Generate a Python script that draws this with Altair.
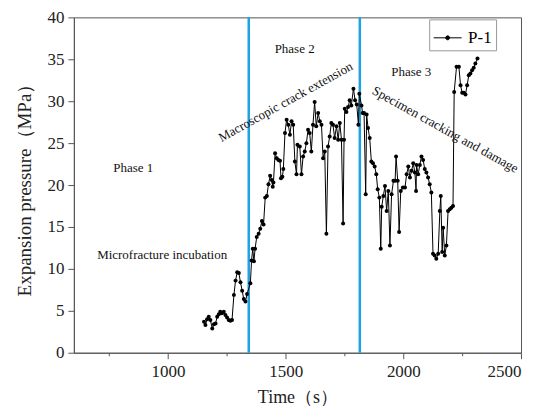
import altair as alt
import pandas as pd

# ---- data ----
time_s = [
    1153, 1159, 1166, 1173, 1180, 1188, 1195, 1202, 1209, 1216, 1222, 1229, 1237, 1244,
    1251, 1258, 1265, 1272, 1280, 1287, 1294, 1301, 1308, 1315, 1322, 1329, 1336, 1350,
    1355, 1360, 1365, 1370, 1377, 1385, 1392, 1399, 1406, 1413, 1420, 1427, 1434, 1441,
    1445, 1448, 1455, 1462, 1469, 1476, 1480, 1486, 1490, 1497, 1504, 1511, 1518, 1525,
    1532, 1539, 1546, 1550, 1560, 1567, 1574, 1581, 1588, 1595, 1602, 1609, 1616, 1623,
    1630, 1638, 1645, 1652, 1659, 1666, 1673, 1680, 1687, 1694, 1701, 1708, 1716, 1723,
    1730, 1737, 1744, 1748, 1751, 1758, 1765, 1772, 1779, 1788, 1795, 1802, 1809, 1813,
    1822, 1827, 1833, 1840, 1844, 1850, 1857, 1864, 1871, 1878, 1885, 1891, 1898, 1904,
    1908, 1915, 1922, 1929, 1936, 1943, 1950, 1958, 1965, 1969, 1976, 1982, 1989, 1998,
    2007, 2014, 2021, 2028, 2035, 2042, 2049, 2054, 2056, 2063, 2070, 2077, 2084, 2091,
    2098, 2105, 2112, 2119, 2126, 2133, 2140, 2148, 2155, 2159, 2165, 2169, 2176, 2183,
    2190, 2197, 2204, 2211, 2216, 2226, 2236, 2243, 2250, 2257, 2264, 2271, 2278, 2285,
    2292, 2299, 2306, 2315,
]
pressure = [
    3.7, 3.3, 4.0, 4.3, 3.9, 2.9, 3.4, 3.5, 4.3, 4.6, 4.9, 4.7, 4.9, 4.5,
    4.2, 3.9, 3.8, 3.9, 6.9, 8.6, 9.6, 9.5, 8.4, 7.4, 6.4, 6.1, 7.0, 8.3,
    11.0, 12.4, 10.9, 12.4, 13.8, 14.2, 14.8, 15.7, 15.3, 18.5, 18.7, 20.1, 21.1, 20.6,
    19.8, 20.3, 23.8, 23.2, 23.0, 22.9, 20.8, 21.0, 21.9, 26.2, 27.8, 27.2, 26.0, 27.6,
    27.2, 22.8, 21.3, 24.8, 24.6, 21.3, 23.4, 24.0, 25.0, 26.6, 26.2, 24.0, 27.2, 29.9,
    27.0, 28.6, 27.6, 27.2, 23.2, 24.0, 14.2, 24.6, 25.8, 27.4, 27.2, 25.6, 27.0, 25.4,
    27.4, 25.4, 15.4, 25.4, 29.1, 28.7, 29.3, 30.1, 29.5, 31.5, 30.1, 29.6, 27.2, 30.9,
    29.5, 28.6, 28.6, 18.9, 28.4, 26.8, 25.6, 22.8, 22.6, 22.2, 21.3, 19.5, 18.5, 12.4,
    17.4, 18.7, 19.9, 16.9, 19.3, 12.8, 18.9, 20.5, 20.5, 23.4, 20.5, 14.4, 19.3, 19.7,
    19.7, 21.3, 22.2, 20.9, 21.7, 22.6, 21.5, 19.3, 22.4, 21.3, 22.4, 23.4, 23.0, 21.9,
    21.5, 20.9, 20.1, 19.1, 11.8, 11.6, 11.2, 11.8, 16.9, 18.7, 12.0, 14.9, 11.6, 12.8,
    16.9, 17.1, 17.3, 17.5, 31.1, 34.1, 34.1, 31.9, 31.0, 31.0, 30.8, 31.9, 33.1, 33.3,
    33.7, 34.0, 34.5, 35.1,
]
series_name = "P-1"

phase_bounds = [1343, 1815]

ann_text = ["Phase 1", "Microfracture incubation", "Phase 2",
            "Macroscopic crack extension", "Phase 3", "Specimen cracking and damage"]
ann_time = [852, 975, 1538, 1500, 2034, 2178]
ann_pres = [22.0, 11.6, 36.2, 29.9, 33.5, 26.6]
ann_angle = [0, 0, 0, 331, 0, 29]

x_major = [1000, 1500, 2000, 2500]
x_minor = [750, 1250, 1750, 2250]
y_ticks = [0, 5, 10, 15, 20, 25, 30, 35, 40]

FONT = "Liberation Serif"
AXIS_COLOR = "#555555"

df = pd.DataFrame({"t": time_s, "p": pressure, "s": [series_name] * len(time_s)})
bounds_df = pd.DataFrame({"t": phase_bounds})
ann_df = pd.DataFrame({"text": ann_text, "t": ann_time, "p": ann_pres, "angle": ann_angle})

x_scale = alt.Scale(domain=[600, 2500], nice=False, zero=False)
y_scale = alt.Scale(domain=[0, 40], nice=False)

x_axis = alt.Axis(
    title="Time（s）",
    values=sorted(x_major + x_minor),
    format="d",
    labelExpr="datum.value % 500 === 0 ? datum.label : ''",
    tickSize={"condition": {"test": "datum.value % 500 === 0", "value": 6}, "value": 3},
    grid=False,
    titlePadding=9,
    labelPadding=5,
)
y_axis = alt.Axis(title="Expansion pressure（MPa）", values=y_ticks, grid=False,
                  tickSize=6, titlePadding=12, titleFontSize=19)

legend_symbol = ("M-1,0H1M-0.14,0a0.14,0.14 0 1,0 0.28,0"
                 "a0.14,0.14 0 1,0 -0.28,0")

line = alt.Chart(df).mark_line(
    strokeWidth=1,
    point=alt.OverlayMarkDef(filled=True, size=16, color="black"),
).encode(
    x=alt.X("t:Q", scale=x_scale, axis=x_axis),
    y=alt.Y("p:Q", scale=y_scale, axis=y_axis),
    color=alt.Color(
        "s:N",
        scale=alt.Scale(range=["black"]),
        legend=alt.Legend(
            title=None,
            orient="none",
            legendX=356,
            legendY=2,
            strokeColor="#999999",
            fillColor="white",
            padding=4,
            symbolType=legend_symbol,
            symbolSize=784,
            symbolStrokeWidth=1,
            symbolFillColor="black",
            symbolStrokeColor="black",
            labelFont=FONT,
            labelFontSize=17,
            labelOffset=6,
        ),
    ),
)

rules = alt.Chart(bounds_df).mark_rule(color="#1FA2E3", strokeWidth=2.5).encode(
    x=alt.X("t:Q", scale=x_scale)
)

texts = alt.Chart(ann_df).mark_text(font=FONT, fontSize=13, color="#111111").encode(
    x=alt.X("t:Q", scale=x_scale),
    y=alt.Y("p:Q", scale=y_scale),
    text="text:N",
    angle=alt.Angle("angle:Q", scale=None),
)

chart = alt.layer(rules, line, texts).properties(
    width=448,
    height=336,
    autosize=alt.AutoSizeParams(type="none"),
    padding={"left": 66, "top": 9, "right": 12, "bottom": 57},
).configure_view(
    stroke=AXIS_COLOR, strokeWidth=1
).configure_axis(
    domainColor=AXIS_COLOR,
    tickColor=AXIS_COLOR,
    labelFont=FONT,
    titleFont=FONT,
    labelFontSize=17,
    titleFontSize=18,
    titleFontWeight="normal",
    labelColor="#222222",
    titleColor="#222222",
    labelPadding=4,
)

chart.save("out.html", embed_options={"renderer": "svg", "actions": False})
